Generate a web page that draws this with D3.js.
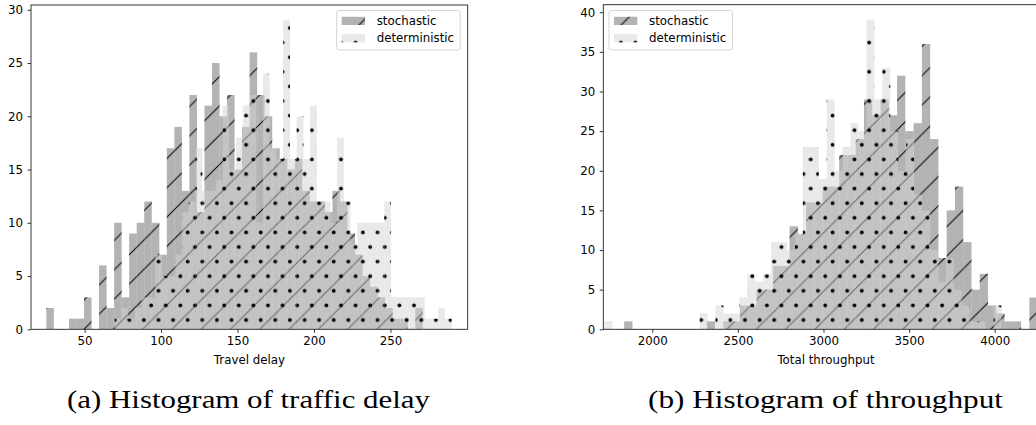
<!DOCTYPE html>
<html><head><meta charset="utf-8">
<script src="https://cdn.jsdelivr.net/npm/d3@7"></script>
<style>body{margin:0;background:#fff;} svg{display:block;}</style>
</head><body>
<svg id="c" width="1036" height="425"></svg>
<script>
// ---------- data: (a) travel delay ----------
const delayStochStart = 25.0, delayStochWidth = 4.923;
const delayStoch = [2,0,0,1,1,3,0,6,2,10, 3,9,10,12,10,7,17,19,13,22, 11,21,25,20,22,15,19,26,22,20, 17,16,15,16,13,12,12,11,13,12, 9,7,5,4,3,2,1,1,0,2];
const delayDetStart = 69.68, delayDetWidth = 4.407;
const delayDet = [1,2,1,2,3,3,7,5,5,7, 11,12,17,13,13,14,21,15,18,21, 22,10,24,17,16,29,16,20,16,21, 12,12,10,18,12,8,10,10,10,10, 12,3,3,3,3,3,1,1,2,1];
const delayXTicks = [50,100,150,200,250];
const delayYTicks = [0,5,10,15,20,25,30];
// ---------- data: (b) total throughput ----------
const thrStochStart = 1835.9, thrStochWidth = 48.3;
const thrStoch = [1,0,0,0,0,0,0,0,0,0, 1,0,1,1,3,3,5,5,8,8, 13,12,16,16,18,18,22,22,24,29, 27,29,27,32,25,26,36,24,9,15, 18,11,5,7,3,2,1,1,0,4];
const thrDetStart = 1719.6, thrDetWidth = 46.4;
const thrDet = [1,0,0,0,0,0,0,0,0,0, 0,0,2,0,3,2,2,4,7,6, 7,11,11,10,12,23,23,19,29,20, 23,26,25,39,29,33,25,20,24,17, 15,10,6,9,5,3,1,1,0,3];
const thrXTicks = [2000,2500,3000,3500,4000];
const thrYTicks = [0,5,10,15,20,25,30,35,40];
const seriesNames = ["stochastic","deterministic"];
const xLabels = ["Travel delay","Total throughput"];
const captions = ["(a) Histogram of traffic delay","(b) Histogram of throughput"];

const svg = d3.select("#c");
const defs = svg.append("defs");
const FONT = "DejaVu Sans, sans-serif";
const FS = 11.8;

function makePatterns(id, lineOff, dotX) {
  const W = 29.3;
  const lp = defs.append("pattern").attr("id","lines"+id).attr("patternUnits","userSpaceOnUse")
    .attr("x", lineOff).attr("y",0).attr("width",W).attr("height",W);
  lp.append("path").attr("d",`M-2,2L2,-2M0,${W}L${W},0M${W-2},${W+2}L${W+2},${W-2}`)
    .attr("stroke","#000").attr("stroke-width",1.0);
  const dp = defs.append("pattern").attr("id","dots"+id).attr("patternUnits","userSpaceOnUse")
    .attr("x", dotX - 3.65).attr("y", 20.7).attr("width",14.6).attr("height",29.2);
  dp.append("circle").attr("cx",3.65).attr("cy",7.3).attr("r",1.9).attr("fill","#000");
  dp.append("circle").attr("cx",10.95).attr("cy",21.9).attr("r",1.9).attr("fill","#000");
}

const S_FILL = "rgba(128,128,128,0.6)", D_FILL = "rgba(211,211,211,0.5)";

function drawChart(c) {
  makePatterns(c.id, c.lineOff, c.dotX);
  const x = d3.scaleLinear().domain(c.xDomain).range([c.left, c.right]);
  const y = d3.scaleLinear().domain([0, c.yMax]).range([c.bottom, c.top]);
  const g = svg.append("g");
  defs.append("clipPath").attr("id","clip"+c.id).append("rect")
    .attr("x",c.left).attr("y",c.top).attr("width",c.right-c.left).attr("height",c.bottom-c.top);
  const plot = g.append("g").attr("clip-path",`url(#clip${c.id})`);
  const sBins = c.sCounts.map((v,i)=>({a:c.sStart+i*c.sWidth, b:c.sStart+(i+1)*c.sWidth, v}));
  const dBins = c.dCounts.map((v,i)=>({a:c.dStart+i*c.dWidth, b:c.dStart+(i+1)*c.dWidth, v}));
  const bar = (sel, data, fill) => sel.selectAll(null).data(data.filter(d=>d.v>0)).join("rect")
    .attr("x",d=>x(d.a)).attr("width",d=>x(d.b)-x(d.a))
    .attr("y",d=>y(d.v)).attr("height",d=>y(0)-y(d.v)).attr("fill",fill);
  bar(plot.append("g"), sBins, S_FILL);
  bar(plot.append("g"), sBins, `url(#lines${c.id})`);
  bar(plot.append("g"), dBins, D_FILL);
  bar(plot.append("g"), dBins, `url(#dots${c.id})`);

  // axes
  const ax = g.append("g").attr("transform",`translate(0,${c.bottom})`)
    .call(d3.axisBottom(x).tickValues(c.xTicks).tickSize(3.5).tickPadding(3.5).tickFormat(d3.format("d")));
  const ay = g.append("g").attr("transform",`translate(${c.left},0)`)
    .call(d3.axisLeft(y).tickValues(c.yTicks).tickSize(3.5).tickPadding(4.5).tickFormat(d3.format("d")));
  [ax,ay].forEach(a=>{
    a.select(".domain").remove();
    a.selectAll("line").attr("stroke","#000").attr("stroke-width",0.8);
    a.selectAll("text").attr("font-family",FONT).attr("font-size",FS).attr("fill","#000");
  });
  g.append("rect").attr("x",c.left).attr("y",c.top).attr("width",c.right-c.left).attr("height",c.bottom-c.top)
    .attr("fill","none").attr("stroke","#222").attr("stroke-width",0.9);

  // x label
  g.append("text").attr("x",c.xLabelX).attr("y",363.5).attr("text-anchor","middle")
    .attr("font-family",FONT).attr("font-size",FS).text(c.xLabel);

  // legend
  const lg = g.append("g").attr("transform",`translate(${c.legX},10.5)`);
  lg.append("rect").attr("width",123.5).attr("height",39.5).attr("rx",2.5)
    .attr("fill","rgba(255,255,255,0.8)").attr("stroke","#d0d0d0").attr("stroke-width",0.9);
  const items = [{n:seriesNames[0], f:S_FILL, p:`url(#lines${c.id})`},{n:seriesNames[1], f:D_FILL, p:`url(#dots${c.id})`}];
  items.forEach((it,i)=>{
    const yy = 6.3 + i*17.3;
    [it.f, it.p].forEach(fl => {
      g.append("rect").attr("x",c.legX+5).attr("y",10.5+yy).attr("width",23.3).attr("height",8.2).attr("fill",fl);
    });
    lg.append("text").attr("x",40).attr("y",yy+8.3).attr("font-family",FONT).attr("font-size",FS).text(it.n);
  });

  // caption
  svg.append("text").attr("x",c.capX).attr("y",408).attr("text-anchor","middle")
    .attr("font-family","Liberation Serif, DejaVu Serif, serif").attr("font-size",24.5)
    .attr("textLength",c.capW).attr("lengthAdjust","spacingAndGlyphs").text(c.caption);
}

drawChart({id:"a", left:31, right:467.7, top:5, bottom:329.3, xDomain:[14.96,300.5], yMax:30.45,
  sStart:delayStochStart, sWidth:delayStochWidth, sCounts:delayStoch,
  dStart:delayDetStart, dWidth:delayDetWidth, dCounts:delayDet,
  xTicks:delayXTicks, yTicks:delayYTicks, xLabel:xLabels[0], xLabelX:249.4,
  legX:336.7, lineOff:3.1, dotX:12.5, caption:captions[0], capX:248.5, capW:363});
drawChart({id:"b", left:603.3, right:1038, top:4.7, bottom:329.3, xDomain:[1713.8,4253], yMax:40.95,
  sStart:thrStochStart, sWidth:thrStochWidth, sCounts:thrStoch,
  dStart:thrDetStart, dWidth:thrDetWidth, dCounts:thrDet,
  xTicks:thrXTicks, yTicks:thrYTicks, xLabel:xLabels[1], xLabelX:826,
  legX:609, lineOff:1.5, dotX:0.4, caption:captions[1], capX:825.5, capW:355});
</script>
</body></html>
